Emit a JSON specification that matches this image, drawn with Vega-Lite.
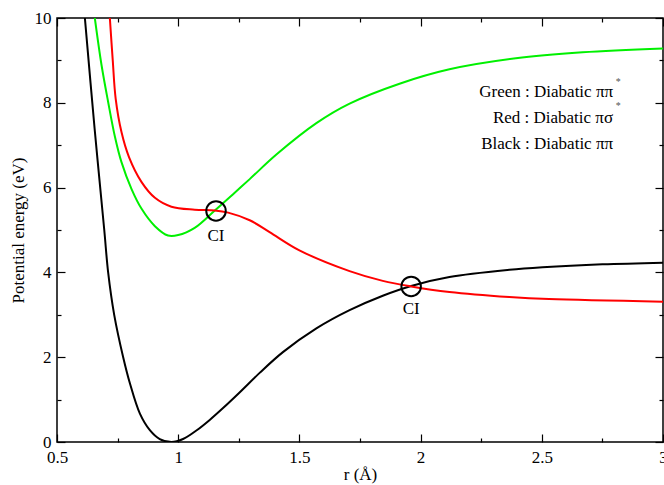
{
  "$schema": "https://vega.github.io/schema/vega-lite/v6.json",
  "autosize": {"type": "none"},
  "width": 606,
  "height": 424,
  "padding": {"left": 57, "top": 18, "right": 1, "bottom": 43},
  "background": "white",
  "config": {
    "view": {"stroke": "black", "strokeWidth": 1.5},
    "font": "Liberation Serif, Times New Roman, serif",
    "axis": {"grid": false, "domain": false, "ticks": true, "labelFlush": false, "labelOverlap": false, "tickColor": "black", "labelColor": "black", "titleColor": "black", "labelFont": "Liberation Serif, Times New Roman, serif", "titleFont": "Liberation Serif, Times New Roman, serif", "labelFontSize": 17, "titleFontSize": 17, "titleFontWeight": "normal", "tickWidth": 1.2}
  },
  "datasets": {
    "curves": [
      {"r": 0.615, "E": 10, "c": "black"}, {"r": 0.655, "E": 7.4, "c": "black"}, {"r": 0.695, "E": 5.0, "c": "black"}, {"r": 0.711, "E": 4.0, "c": "black"}, {"r": 0.736, "E": 3.0, "c": "black"}, {"r": 0.773, "E": 2.0, "c": "black"}, {"r": 0.801, "E": 1.38, "c": "black"}, {"r": 0.842, "E": 0.67, "c": "black"}, {"r": 0.883, "E": 0.28, "c": "black"}, {"r": 0.924, "E": 0.07, "c": "black"}, {"r": 0.972, "E": 0, "c": "black"}, {"r": 1.02, "E": 0.07, "c": "black"}, {"r": 1.075, "E": 0.27, "c": "black"}, {"r": 1.13, "E": 0.52, "c": "black"}, {"r": 1.185, "E": 0.8, "c": "black"}, {"r": 1.25, "E": 1.15, "c": "black"}, {"r": 1.336, "E": 1.63, "c": "black"}, {"r": 1.432, "E": 2.12, "c": "black"}, {"r": 1.57, "E": 2.68, "c": "black"}, {"r": 1.707, "E": 3.11, "c": "black"}, {"r": 1.844, "E": 3.45, "c": "black"}, {"r": 1.961, "E": 3.68, "c": "black"}, {"r": 2.119, "E": 3.89, "c": "black"}, {"r": 2.366, "E": 4.06, "c": "black"}, {"r": 2.503, "E": 4.12, "c": "black"}, {"r": 2.75, "E": 4.19, "c": "black"}, {"r": 3.0, "E": 4.23, "c": "black"},
      {"r": 0.656, "E": 10, "c": "green"}, {"r": 0.684, "E": 8.88, "c": "green"}, {"r": 0.711, "E": 8.02, "c": "green"}, {"r": 0.739, "E": 7.2, "c": "green"}, {"r": 0.766, "E": 6.60, "c": "green"}, {"r": 0.808, "E": 5.96, "c": "green"}, {"r": 0.849, "E": 5.50, "c": "green"}, {"r": 0.904, "E": 5.09, "c": "green"}, {"r": 0.958, "E": 4.87, "c": "green"}, {"r": 1.0, "E": 4.88, "c": "green"}, {"r": 1.068, "E": 5.05, "c": "green"}, {"r": 1.151, "E": 5.46, "c": "green"}, {"r": 1.233, "E": 5.88, "c": "green"}, {"r": 1.295, "E": 6.2, "c": "green"}, {"r": 1.405, "E": 6.78, "c": "green"}, {"r": 1.57, "E": 7.52, "c": "green"}, {"r": 1.707, "E": 7.98, "c": "green"}, {"r": 1.913, "E": 8.45, "c": "green"}, {"r": 2.119, "E": 8.79, "c": "green"}, {"r": 2.393, "E": 9.05, "c": "green"}, {"r": 2.668, "E": 9.19, "c": "green"}, {"r": 3.0, "E": 9.28, "c": "green"},
      {"r": 0.718, "E": 10, "c": "red"}, {"r": 0.730, "E": 9.0, "c": "red"}, {"r": 0.742, "E": 8.1, "c": "red"}, {"r": 0.766, "E": 7.31, "c": "red"}, {"r": 0.797, "E": 6.72, "c": "red"}, {"r": 0.849, "E": 6.13, "c": "red"}, {"r": 0.904, "E": 5.76, "c": "red"}, {"r": 0.972, "E": 5.55, "c": "red"}, {"r": 1.068, "E": 5.48, "c": "red"}, {"r": 1.151, "E": 5.46, "c": "red"}, {"r": 1.206, "E": 5.41, "c": "red"}, {"r": 1.295, "E": 5.23, "c": "red"}, {"r": 1.377, "E": 4.95, "c": "red"}, {"r": 1.5, "E": 4.52, "c": "red"}, {"r": 1.707, "E": 4.03, "c": "red"}, {"r": 1.844, "E": 3.8, "c": "red"}, {"r": 1.961, "E": 3.67, "c": "red"}, {"r": 2.119, "E": 3.54, "c": "red"}, {"r": 2.366, "E": 3.42, "c": "red"}, {"r": 2.53, "E": 3.37, "c": "red"}, {"r": 3.0, "E": 3.31, "c": "red"}
    ],
    "ci": [
      {"r": 1.156, "E": 5.45, "label": "CI", "ly": 4.86},
      {"r": 1.961, "E": 3.67, "label": "CI", "ly": 3.13}
    ],
    "legend": [
      {"x": 2.794, "y": 8.26, "t": "Green : Diabatic ππ"},
      {"x": 2.794, "y": 7.65, "t": "Red : Diabatic πσ"},
      {"x": 2.794, "y": 7.04, "t": "Black : Diabatic ππ"}
    ],
    "stars": [
      {"x": 2.815, "y": 8.49, "t": "*"},
      {"x": 2.815, "y": 7.92, "t": "*"}
    ]
  },
  "resolve": {"axis": {"x": "independent", "y": "independent"}},
  "layer": [
    {
      "data": {"name": "curves"},
      "mark": {"type": "line", "strokeWidth": 2, "interpolate": "catmull-rom", "clip": true},
      "encoding": {
        "x": {"field": "r", "type": "quantitative", "scale": {"domain": [0.5, 3], "nice": false, "zero": false},
          "axis": {"orient": "bottom", "title": "r (Å)", "values": [0.5, 0.75, 1, 1.25, 1.5, 1.75, 2, 2.25, 2.5, 2.75, 3],
            "tickSize": {"condition": {"test": "datum.value % 0.5 !== 0", "value": -4}, "value": -8},
            "labelPadding": 15, "labelExpr": "datum.value % 0.5 === 0 ? format(datum.value, '~g') : ''", "titlePadding": -3}},
        "y": {"field": "E", "type": "quantitative", "scale": {"domain": [0, 10], "nice": false},
          "axis": {"orient": "left", "title": "Potential energy (eV)", "values": [0, 1, 2, 3, 4, 5, 6, 7, 8, 9, 10],
            "tickSize": {"condition": {"test": "datum.value % 2 !== 0", "value": -4}, "value": -8},
            "labelPadding": 14, "labelExpr": "datum.value % 2 === 0 ? format(datum.value, '~g') : ''", "titlePadding": 7}},
        "color": {"field": "c", "type": "nominal", "scale": {"domain": ["black", "green", "red"], "range": ["#000000", "#00f000", "#ff0000"]}, "legend": null},
        "detail": {"field": "c"}
      }
    },
    {
      "data": {"name": "ci"},
      "mark": {"type": "point", "shape": "circle", "filled": false, "stroke": "black", "strokeWidth": 2, "size": 380, "opacity": 1},
      "encoding": {
        "x": {"field": "r", "type": "quantitative",
          "axis": {"orient": "top", "title": null, "labels": false, "values": [0.5, 0.75, 1, 1.25, 1.5, 1.75, 2, 2.25, 2.5, 2.75, 3],
            "tickSize": {"condition": {"test": "datum.value % 0.5 !== 0", "value": -4}, "value": -8}}},
        "y": {"field": "E", "type": "quantitative",
          "axis": {"orient": "right", "title": null, "labels": false, "values": [0, 1, 2, 3, 4, 5, 6, 7, 8, 9, 10],
            "tickSize": {"condition": {"test": "datum.value % 2 !== 0", "value": -4}, "value": -8}}}
      }
    },
    {
      "data": {"name": "ci"},
      "mark": {"type": "text", "fontSize": 17, "font": "Liberation Serif, Times New Roman, serif", "baseline": "middle", "align": "center", "color": "black"},
      "encoding": {
        "x": {"field": "r", "type": "quantitative", "axis": null},
        "y": {"field": "ly", "type": "quantitative", "axis": null},
        "text": {"field": "label"}
      }
    },
    {
      "data": {"name": "legend"},
      "mark": {"type": "text", "fontSize": 17, "font": "Liberation Serif, Times New Roman, serif", "baseline": "middle", "align": "right", "color": "black"},
      "encoding": {
        "x": {"field": "x", "type": "quantitative", "axis": null},
        "y": {"field": "y", "type": "quantitative", "axis": null},
        "text": {"field": "t"}
      }
    },
    {
      "data": {"name": "stars"},
      "mark": {"type": "text", "fontSize": 10, "font": "Liberation Serif, Times New Roman, serif", "baseline": "middle", "align": "center", "color": "#555555"},
      "encoding": {
        "x": {"field": "x", "type": "quantitative", "axis": null},
        "y": {"field": "y", "type": "quantitative", "axis": null},
        "text": {"field": "t"}
      }
    }
  ]
}
